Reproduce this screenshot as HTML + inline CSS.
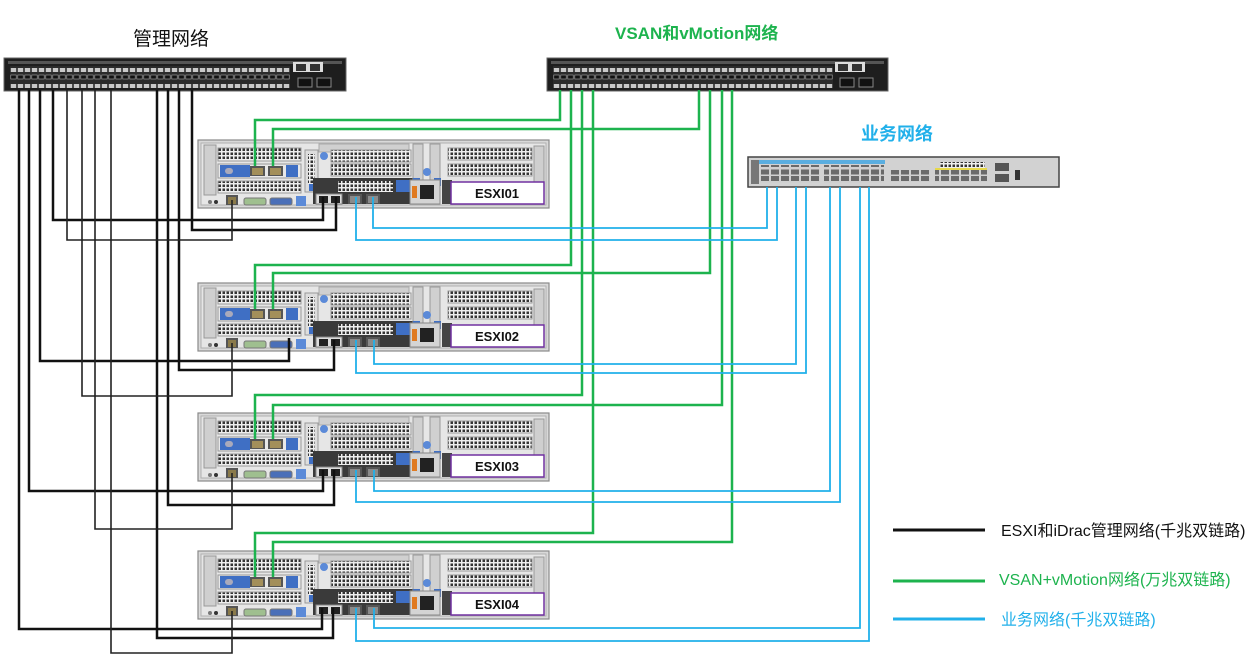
<!DOCTYPE html>
<html><head><meta charset="utf-8"><style>
html,body{margin:0;padding:0;background:#fff;}
svg{display:block;}
text{font-family:"Liberation Sans","Noto Sans CJK SC",sans-serif;}
</style></head><body>
<svg width="1259" height="661" viewBox="0 0 1259 661" xmlns="http://www.w3.org/2000/svg">
<defs>
<pattern id="gr" width="4" height="4" patternUnits="userSpaceOnUse"><rect width="4" height="4" fill="#eee"/><rect x="0.5" y="0.5" width="2.5" height="2.5" fill="#333"/></pattern>
<pattern id="sp" width="7" height="16" patternUnits="userSpaceOnUse"><rect width="7" height="16" fill="#2b2b2b"/><rect x="0.8" y="2" width="5.4" height="4" fill="#c8c8c8"/><rect x="0.8" y="9" width="5.4" height="4" fill="#111" stroke="#aaa" stroke-width="0.6"/></pattern>
<pattern id="bp" width="10" height="14" patternUnits="userSpaceOnUse"><rect width="10" height="14" fill="#cfcfcf"/><rect x="1" y="1.5" width="8" height="5" fill="#6a6a6a"/><rect x="1" y="8" width="8" height="5" fill="#6a6a6a"/></pattern>
<g id="srv">
<rect x="0" y="0" width="351" height="68" fill="#d9d9d9" stroke="#8a8a8a" stroke-width="1.2"/>
<rect x="3" y="3" width="345" height="62" fill="#e6e6e6" stroke="#b0b0b0"/>
<rect x="6" y="5" width="12" height="50" fill="#cfcfcf" stroke="#999"/>
<rect x="20" y="8" width="83" height="13" fill="url(#gr)" stroke="#999"/>
<rect x="20" y="24" width="83" height="14" fill="#e8e8e8" stroke="#999"/>
<rect x="22" y="25" width="30" height="12" fill="#3f6fc4"/>
<rect x="27" y="28" width="8" height="6" rx="3" fill="#aab"/>
<rect x="52" y="26" width="15" height="10" fill="#555"/><rect x="54" y="28" width="11" height="7" fill="#a38f5a"/>
<rect x="70" y="26" width="15" height="10" fill="#555"/><rect x="72" y="28" width="11" height="7" fill="#a38f5a"/>
<rect x="88" y="25" width="12" height="12" fill="#3f6fc4"/>
<rect x="20" y="41" width="83" height="12" fill="url(#gr)" stroke="#999"/>
<circle cx="12" cy="62" r="2" fill="#777"/><circle cx="18" cy="62" r="2" fill="#333"/>
<rect x="28" y="55" width="12" height="10" fill="#555"/><rect x="30" y="57" width="8" height="7" fill="#8a7a4a"/>
<rect x="46" y="58" width="22" height="7" rx="2" fill="#9fbf8f" stroke="#777"/>
<rect x="72" y="58" width="22" height="7" rx="2" fill="#4a6fb8" stroke="#777"/>
<rect x="98" y="56" width="10" height="10" fill="#5b8ad8"/>
<rect x="107" y="10" width="13" height="42" fill="#ddd" stroke="#999"/>
<rect x="110" y="14" width="7" height="30" fill="url(#gr)"/>
<rect x="111" y="44" width="6" height="7" fill="#3f6fc4"/>
<rect x="121" y="4" width="90" height="8" fill="#d0d0d0" stroke="#aaa"/>
<circle cx="126" cy="16" r="4" fill="#5b8ad8"/>
<rect x="133" y="10" width="80" height="12" fill="url(#gr)" stroke="#999"/>
<rect x="133" y="24" width="80" height="12" fill="url(#gr)" stroke="#999"/>
<rect x="115" y="38" width="100" height="26" fill="#3a3a3a"/>
<rect x="140" y="41" width="55" height="11" fill="url(#gr)"/>
<rect x="198" y="40" width="14" height="12" fill="#3f6fc4"/>
<rect x="118" y="54" width="26" height="10" fill="#ddd" stroke="#888"/>
<rect x="121" y="56" width="9" height="7" fill="#222"/><rect x="133" y="56" width="9" height="7" fill="#222"/>
<rect x="150" y="54" width="14" height="10" fill="#555"/><rect x="152" y="56" width="10" height="7" fill="#8a8a8a"/>
<rect x="168" y="54" width="14" height="10" fill="#555"/><rect x="170" y="56" width="10" height="7" fill="#8a8a8a"/>
<rect x="215" y="4" width="10" height="48" fill="#d0d0d0" stroke="#999"/>
<rect x="232" y="4" width="10" height="48" fill="#d0d0d0" stroke="#999"/>
<circle cx="229" cy="32" r="4" fill="#5b8ad8"/>
<rect x="215" y="38" width="7" height="8" fill="#3f6fc4"/><rect x="236" y="38" width="7" height="8" fill="#3f6fc4"/>
<rect x="250" y="8" width="84" height="12" fill="url(#gr)" stroke="#999"/>
<rect x="250" y="24" width="84" height="12" fill="url(#gr)" stroke="#999"/>
<rect x="336" y="6" width="10" height="50" fill="#cfcfcf" stroke="#999"/>
<rect x="212" y="40" width="30" height="24" fill="#d4d4d4" stroke="#888"/>
<rect x="222" y="45" width="14" height="14" fill="#222"/><rect x="214" y="46" width="5" height="12" fill="#e07a20"/>
<rect x="244" y="40" width="10" height="24" fill="#444"/>
</g>
<g id="ps">
<rect x="0" y="0" width="70" height="22" fill="url(#sp)"/>
</g>
</defs>

<!-- titles -->
<text x="133" y="45" font-size="19" fill="#111">管理网络</text>
<text x="615" y="39" font-size="17" fill="#1db34e" font-weight="bold">VSAN和vMotion网络</text>
<text x="861" y="140" font-size="18" fill="#21b0ea" font-weight="bold">业务网络</text>

<!-- mgmt switch -->
<rect x="4" y="58" width="342" height="33" fill="#1e1e1e" stroke="#666"/>
<rect x="8" y="61" width="334" height="3" fill="#555"/>
<use href="#ps" x="10" y="66"/><use href="#ps" x="80" y="66"/><use href="#ps" x="150" y="66"/><use href="#ps" x="220" y="66"/>
<rect x="293" y="62" width="30" height="10" fill="#ddd"/><rect x="296" y="64" width="10" height="7" fill="#333"/><rect x="310" y="64" width="10" height="7" fill="#333"/>
<rect x="298" y="78" width="14" height="9" fill="#111" stroke="#888"/><rect x="317" y="78" width="14" height="9" fill="#111" stroke="#888"/>
<!-- vsan switch -->
<rect x="547" y="58" width="341" height="33" fill="#1e1e1e" stroke="#666"/>
<rect x="551" y="61" width="333" height="3" fill="#555"/>
<use href="#ps" x="553" y="66"/><use href="#ps" x="623" y="66"/><use href="#ps" x="693" y="66"/><use href="#ps" x="763" y="66"/>
<rect x="835" y="62" width="30" height="10" fill="#ddd"/><rect x="838" y="64" width="10" height="7" fill="#333"/><rect x="852" y="64" width="10" height="7" fill="#333"/>
<rect x="840" y="78" width="14" height="9" fill="#111" stroke="#888"/><rect x="859" y="78" width="14" height="9" fill="#111" stroke="#888"/>
<!-- business switch -->
<rect x="748" y="157" width="311" height="30" fill="#d2d2d2" stroke="#444" stroke-width="1.5"/>
<rect x="751" y="160" width="8" height="24" fill="#777"/>
<rect x="759" y="160" width="126" height="4" fill="#5aaee0"/>
<rect x="760" y="165" width="60" height="18" fill="url(#bp)"/>
<rect x="824" y="165" width="60" height="18" fill="url(#bp)"/>
<rect x="890" y="170" width="40" height="12" fill="url(#bp)"/>
<rect x="940" y="162" width="45" height="6" fill="url(#gr)"/>
<rect x="935" y="170" width="52" height="12" fill="url(#bp)"/>
<rect x="935" y="168" width="52" height="2" fill="#e6d84a"/>
<rect x="995" y="163" width="14" height="8" fill="#555"/><rect x="995" y="174" width="14" height="8" fill="#555"/>
<rect x="1015" y="170" width="5" height="10" fill="#333"/>

<!-- servers -->
<use href="#srv" x="198" y="140"/>
<use href="#srv" x="198" y="283"/>
<use href="#srv" x="198" y="413"/>
<use href="#srv" x="198" y="551"/>
<g fill="#fff" stroke="#7030a0" stroke-width="1.5">
<rect x="451" y="182" width="93" height="22"/>
<rect x="451" y="325" width="93" height="22"/>
<rect x="451" y="455" width="93" height="22"/>
<rect x="451" y="593" width="93" height="22"/>
</g>
<g font-size="13" font-weight="bold" fill="#111" text-anchor="middle">
<text x="497" y="198">ESXI01</text>
<text x="497" y="341">ESXI02</text>
<text x="497" y="471">ESXI03</text>
<text x="497" y="609">ESXI04</text>
</g>

<!-- black lines -->
<g fill="none" stroke="#111" stroke-width="2.5">
<path d="M53,90 V220 H323 V197"/>
<path d="M192,90 V230 H336 V197"/>
<path d="M40,90 V361 H289 V338"/>
<path d="M179,90 V370 H334 V340"/>
<path d="M29,90 V491 H323 V470"/>
<path d="M168,90 V505 H334 V470"/>
<path d="M19,90 V629 H322 V608"/>
<path d="M157,90 V638 H333 V608"/>
</g>
<g fill="none" stroke="#222" stroke-width="1.6">
<path d="M67,90 V240 H232 V200"/>
<path d="M82,90 V396 H232 V343"/>
<path d="M95,90 V529 H232 V473"/>
<path d="M111,90 V653 H232 V611"/>
</g>
<!-- green lines -->
<g fill="none" stroke="#1db34e" stroke-width="2.5">
<path d="M560,90 V120 H255 V166"/>
<path d="M699,90 V129 H273 V166"/>
<path d="M571,90 V265 H255 V309"/>
<path d="M710,90 V273 H273 V309"/>
<path d="M582,90 V395 H255 V439"/>
<path d="M722,90 V405 H273 V439"/>
<path d="M593,90 V533 H255 V577"/>
<path d="M732,90 V542 H273 V577"/>
</g>
<!-- blue lines -->
<g fill="none" stroke="#21b0ea" stroke-width="1.8">
<path d="M767,187 V228 H373 V197"/>
<path d="M777,187 V240 H356 V197"/>
<path d="M796,187 V364 H374 V340"/>
<path d="M806,187 V373 H356 V340"/>
<path d="M830,187 V491 H374 V470"/>
<path d="M840,187 V502 H356 V470"/>
<path d="M860,187 V628 H374 V608"/>
<path d="M869,187 V641 H356 V608"/>
</g>

<!-- legend -->
<line x1="893" y1="530" x2="985" y2="530" stroke="#111" stroke-width="3"/>
<line x1="893" y1="581" x2="985" y2="581" stroke="#1db34e" stroke-width="3"/>
<line x1="893" y1="619" x2="985" y2="619" stroke="#21b0ea" stroke-width="3"/>
<text x="1001" y="536" font-size="16" fill="#111">ESXI和iDrac管理网络(千兆双链路)</text>
<text x="999" y="585" font-size="16" fill="#1db34e">VSAN+vMotion网络(万兆双链路)</text>
<text x="1001" y="625" font-size="16" fill="#21b0ea">业务网络(千兆双链路)</text>
</svg>
</body></html>
